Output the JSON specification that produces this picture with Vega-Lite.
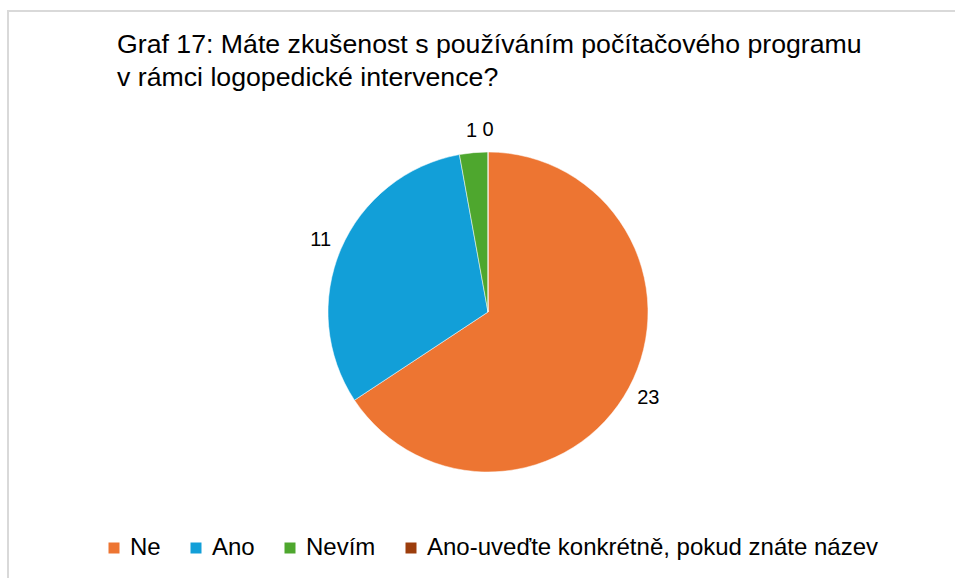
{
  "$schema": "https://vega.github.io/schema/vega-lite/v6.json",
  "width": 960,
  "height": 602,
  "autosize": {"type": "none"},
  "padding": {"left": 8, "top": 11, "right": 0, "bottom": 0},
  "background": "white",
  "view": {"stroke": "#d9d9d9", "strokeWidth": 2},
  "title": {
    "text": ["Graf 17: Máte zkušenost s používáním počítačového programu", "v rámci logopedické intervence?"],
    "anchor": "start",
    "frame": "group",
    "baseline": "top",
    "dx": 109,
    "dy": 85,
    "font": "Liberation Sans",
    "fontSize": 26.7,
    "fontWeight": "normal",
    "color": "#000000",
    "lineHeight": 33
  },
  "data": {
    "values": [
      {"kategorie": "Ne", "pocet": 23, "poradi": 1},
      {"kategorie": "Ano", "pocet": 11, "poradi": 2},
      {"kategorie": "Nevím", "pocet": 1, "poradi": 3},
      {"kategorie": "Ano-uveďte konkrétně, pokud znáte název", "pocet": 0, "poradi": 4}
    ]
  },
  "encoding": {
    "theta": {"field": "pocet", "type": "quantitative", "stack": true},
    "order": {"field": "poradi", "type": "quantitative"}
  },
  "layer": [
    {
      "mark": {"type": "arc", "outerRadius": 160, "stroke": "white", "strokeWidth": 0.5},
      "encoding": {
        "color": {
          "field": "kategorie",
          "type": "nominal",
          "sort": ["Ne", "Ano", "Nevím", "Ano-uveďte konkrétně, pokud znáte název"],
          "scale": {
            "domain": ["Ne", "Ano", "Nevím", "Ano-uveďte konkrétně, pokud znáte název"],
            "range": ["#ED7532", "#129FD8", "#4EA72E", "#9C3D0C"]
          },
          "legend": {
            "title": null,
            "orient": "none",
            "legendX": 94,
            "legendY": 525,
            "direction": "horizontal",
            "columns": 4,
            "symbolType": "square",
            "symbolSize": 121,
            "symbolStrokeWidth": 0,
            "labelFont": "Liberation Sans",
            "labelFontSize": 24,
            "labelColor": "#000000",
            "labelOffset": 4,
            "labelLimit": 600,
            "columnPadding": 23
          }
        }
      }
    },
    {
      "mark": {"type": "text", "radius": 182, "font": "Liberation Sans", "fontSize": 20, "color": "#000000"},
      "encoding": {
        "text": {"field": "pocet", "type": "quantitative"}
      }
    }
  ]
}
